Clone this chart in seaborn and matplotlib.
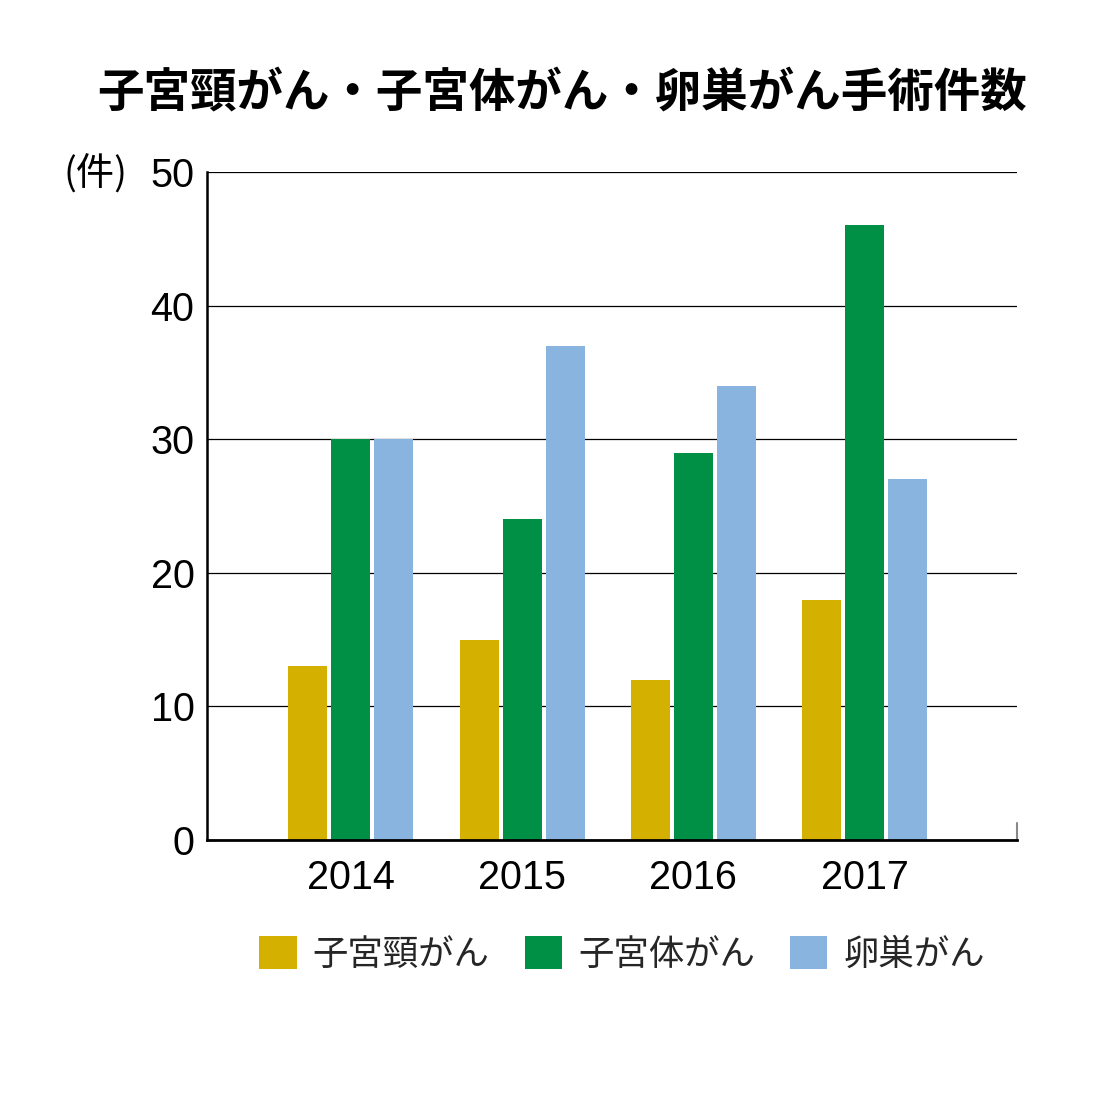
import matplotlib
matplotlib.use("Agg")
import matplotlib.pyplot as plt
import seaborn as sns
import pandas as pd
from matplotlib.patches import Patch

years = ["2014", "2015", "2016", "2017"]
cervical = [13, 15, 12, 18]
endometrial = [30, 24, 29, 46]
ovarian = [30, 37, 34, 27]
series_names = ["子宮頸がん", "子宮体がん", "卵巣がん"]
colors = ["#D4B000", "#009045", "#8AB4E0"]
yticks = [0, 10, 20, 30, 40, 50]
title = "子宮頸がん・子宮体がん・卵巣がん手術件数"
unit = "(件)"

rows = []
for name, vals in zip(series_names, [cervical, endometrial, ovarian]):
    for y, v in zip(years, vals):
        rows.append({"year": y, "series": name, "value": v})
df = pd.DataFrame(rows)

sns.set_theme(style="white")
plt.rcParams['font.family'] = ['Liberation Sans', 'Noto Sans CJK JP', 'DejaVu Sans']

fig = plt.figure(figsize=(11.2, 11.2), dpi=100)
ax = fig.add_axes([0.1848, 0.25, 0.908 - 0.1848, 0.8464 - 0.25])

sns.barplot(data=df, x="year", y="value", hue="series", hue_order=series_names,
            palette=colors, width=0.753, gap=0.093, saturation=1.0,
            legend=False, ax=ax, linewidth=0)

ax.set_xlim(-0.84, 3.89)
ax.set_ylim(0, 50)
ax.set_yticks(yticks)
ax.set_xlabel("")
ax.set_ylabel("")
ax.grid(axis="y", color="black", linewidth=0.9)
ax.set_axisbelow(True)
for s in ["top", "right"]:
    ax.spines[s].set_visible(False)
ax.spines["left"].set_color("black")
ax.spines["left"].set_linewidth(1.8)
ax.spines["bottom"].set_color("black")
ax.spines["bottom"].set_linewidth(2.0)
ax.tick_params(axis="both", length=0, labelsize=28.5, colors="black")
ax.tick_params(axis="y", pad=9)
ax.tick_params(axis="x", pad=14)
ax.axvline(3.89, ymin=0, ymax=0.025, color="#888888", linewidth=1.5, clip_on=False)

fig.text(0.502, 0.917, title, ha="center", va="center", fontsize=33.5,
         fontweight="bold", family=['Noto Sans CJK JP', 'DejaVu Sans'], color="black")
fig.text(0.057, 0.8435, unit, ha="left", va="center", fontsize=27.5,
         family=['Noto Sans CJK JP', 'DejaVu Sans'], color="black")

handles = [Patch(facecolor=c, edgecolor="none") for c in colors]
fig.legend(handles, series_names, loc="center", bbox_to_anchor=(0.5555, 0.148), ncol=3,
           frameon=False, prop={"family": ['Noto Sans CJK JP', 'DejaVu Sans'], "size": 25.5},
           handlelength=1.05, handleheight=1.05, handletextpad=0.45, columnspacing=1.0)

fig.savefig("out.png", dpi=100, facecolor="white")
